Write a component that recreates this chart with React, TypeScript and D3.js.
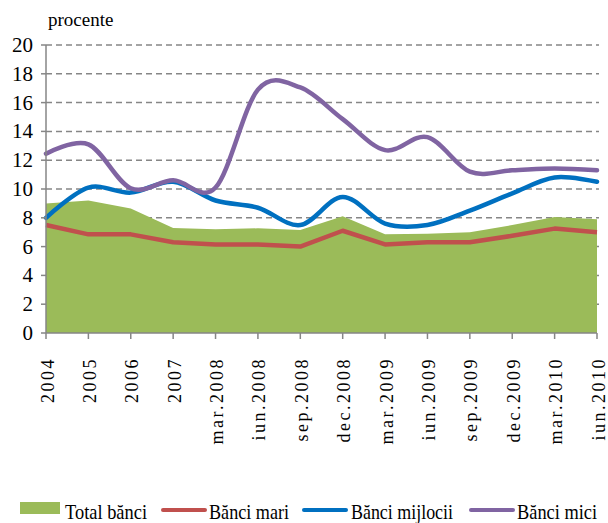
import React from "react";
import * as d3 from "d3";

const categories = ["2004","2005","2006","2007","mar.2008","iun.2008","sep.2008","dec.2008","mar.2009","iun.2009","sep.2009","dec.2009","mar.2010","iun.2010"];
const totalBanci = [9.0, 9.2, 8.65, 7.3, 7.2, 7.27, 7.15, 8.1, 6.85, 6.9, 7.0, 7.5, 8.05, 7.9];
const banciMari = [7.5, 6.85, 6.85, 6.3, 6.15, 6.15, 6.0, 7.1, 6.15, 6.3, 6.3, 6.75, 7.25, 7.0];
const banciMijlocii = [8.0, 10.1, 9.75, 10.5, 9.2, 8.7, 7.5, 9.45, 7.6, 7.5, 8.5, 9.7, 10.8, 10.5];
const banciMici = [12.45, 13.1, 10.05, 10.6, 10.1, 16.9, 17.05, 14.85, 12.7, 13.6, 11.2, 11.3, 11.43, 11.3];
const yTicks = [0, 2, 4, 6, 8, 10, 12, 14, 16, 18, 20];
const legendItems = [
  { label: "Total bănci", color: "#9BBB59", kind: "rect" },
  { label: "Bănci mari", color: "#C0504D", kind: "line" },
  { label: "Bănci mijlocii", color: "#0070C0", kind: "line" },
  { label: "Bănci mici", color: "#8064A2", kind: "line" },
];

const W = 608, H = 523;
const left = 46, right = 597, top = 45, bottom = 333;
const FONT = "'Liberation Serif', 'Times New Roman', serif";

export default function App() {
  const x = d3.scalePoint<string>().domain(categories).range([left, right]).padding(0);
  const y = d3.scaleLinear().domain([0, 20]).range([bottom, top]);
  const idx = categories.map((_, i) => i);
  const px = (i: number) => x(categories[i]) as number;

  const area = d3.area<number>().x((i) => px(i)).y0(y(0)).y1((i) => y(totalBanci[i]))(idx) || "";
  const lineLin = (vals: number[]) => d3.line<number>().x((i) => px(i)).y((i) => y(vals[i]))(idx) || "";
  const lineSmooth = (vals: number[]) =>
    d3.line<number>().x((i) => px(i)).y((i) => y(vals[i])).curve(d3.curveCardinal.tension(0))(idx) || "";

  const legendX = [20, 163, 304, 471];
  const legendTextX = [65, 209, 351, 517];
  const legendW = [82, 80, 102, 80];

  return (
    <svg width={W} height={H} style={{ position: "absolute", left: 0, top: 0, background: "#fff" }} fontFamily={FONT}>
      {yTicks.filter((t) => t > 0).map((t) => (
        <line key={t} x1={left} x2={right + 2} y1={y(t)} y2={y(t)} stroke="#868686" strokeWidth={1.5} strokeDasharray="6,4" />
      ))}
      <path d={area} fill="#9BBB59" />
      <path d={lineLin(banciMari)} fill="none" stroke="#C0504D" strokeWidth={4.5} strokeLinejoin="round" />
      <path d={lineSmooth(banciMijlocii)} fill="none" stroke="#0070C0" strokeWidth={4.5} strokeLinecap="round" />
      <path d={lineSmooth(banciMici)} fill="none" stroke="#8064A2" strokeWidth={4.5} strokeLinecap="round" />
      <line x1={left} x2={left} y1={top} y2={bottom} stroke="#868686" strokeWidth={1.5} />
      <line x1={left} x2={right} y1={bottom} y2={bottom} stroke="#868686" strokeWidth={1.5} />
      {yTicks.map((t) => (
        <g key={t}>
          <line x1={left - 5} x2={left} y1={y(t)} y2={y(t)} stroke="#868686" strokeWidth={1.5} />
          <text x={33} y={y(t) + 7} textAnchor="end" fontSize={21} fill="#000">{t}</text>
        </g>
      ))}
      {categories.map((c, i) => (
        <g key={c}>
          <line x1={px(i)} x2={px(i)} y1={bottom} y2={bottom + 6} stroke="#868686" strokeWidth={1.5} />
          <text transform={`translate(${px(i) + 7.5},357) rotate(-90)`} textAnchor="end" fontSize={18} letterSpacing={2.5} fill="#000">{c}</text>
        </g>
      ))}
      <text x={48} y={26} fontSize={19} fill="#000">procente</text>
      {legendItems.map((it, i) => (
        <g key={it.label}>
          {it.kind === "rect" ? (
            <rect x={legendX[i]} y={502} width={40} height={12} fill={it.color} />
          ) : (
            <line x1={legendX[i]} x2={legendX[i] + 42} y1={510} y2={510} stroke={it.color} strokeWidth={4} strokeLinecap="round" />
          )}
          <text x={legendTextX[i]} y={519} fontSize={21} fill="#000" textLength={legendW[i]} lengthAdjust="spacingAndGlyphs">{it.label}</text>
        </g>
      ))}
    </svg>
  );
}
